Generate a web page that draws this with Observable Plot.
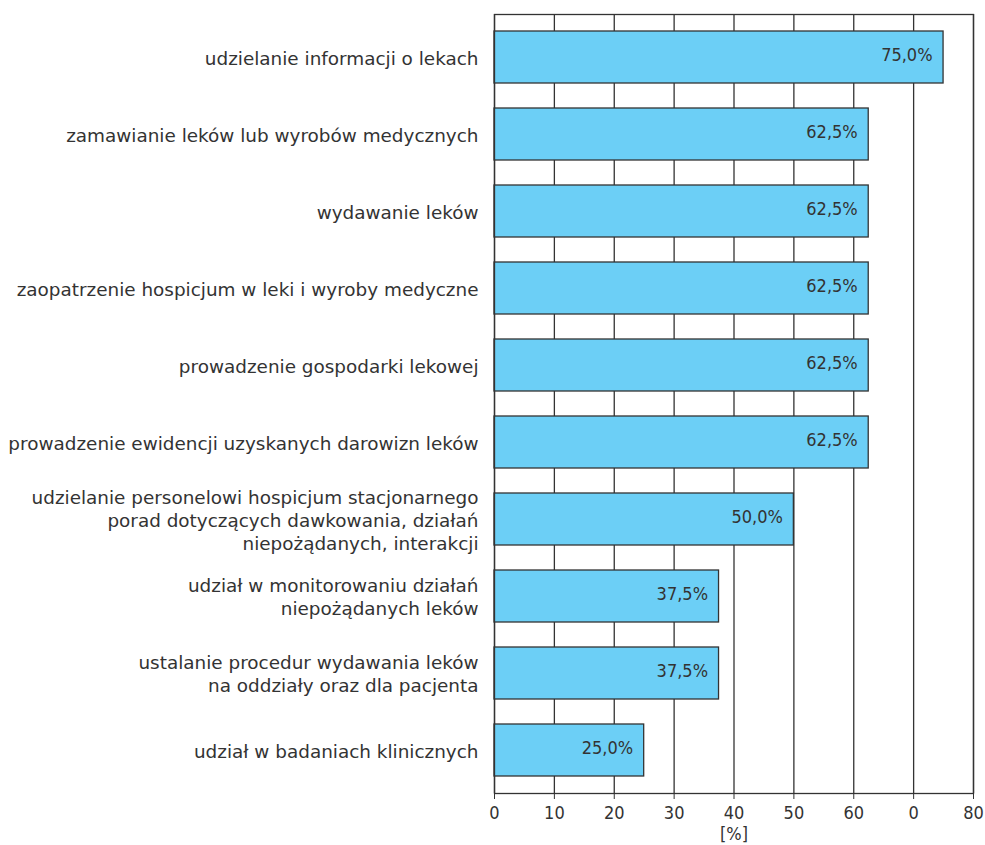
<!DOCTYPE html>
<html>
<head>
<meta charset="utf-8">
<script src="https://cdn.jsdelivr.net/npm/d3@7"></script>
<script src="https://cdn.jsdelivr.net/npm/@observablehq/plot@0.6"></script>
<style>
  html, body { margin: 0; padding: 0; background: #fff; }
  #chart svg { display: block; }
</style>
</head>
<body>
<div id="chart"></div>
<script>
const categories = [
  "udzielanie informacji o lekach",
  "zamawianie leków lub wyrobów medycznych",
  "wydawanie leków",
  "zaopatrzenie hospicjum w leki i wyroby medyczne",
  "prowadzenie gospodarki lekowej",
  "prowadzenie ewidencji uzyskanych darowizn leków",
  "udzielanie personelowi hospicjum stacjonarnego\nporad dotyczących dawkowania, działań\nniepożądanych, interakcji",
  "udział w monitorowaniu działań\nniepożądanych leków",
  "ustalanie procedur wydawania leków\nna oddziały oraz dla pacjenta",
  "udział w badaniach klinicznych"
];
const values = [75.0, 62.5, 62.5, 62.5, 62.5, 62.5, 50.0, 37.5, 37.5, 25.0];
const xTicks = [0, 10, 20, 30, 40, 50, 60, 70, 80];
const xTickLabels = ["0", "10", "20", "30", "40", "50", "60", "0", "80"];

const data = categories.map((c, i) => ({category: c, value: values[i]}));
const fmt = v => v.toFixed(1).replace(".", ",") + "%";

const ink = "#333";
const font = "DejaVu Sans, sans-serif";
const condensed = "DejaVu Sans Condensed, DejaVu Sans, sans-serif";

// ticks at band boundaries on the left axis
function bandBoundaryTicks(index, scales, values, dims) {
  const g = d3.create("svg:g").attr("stroke", ink).attr("stroke-width", 1.3);
  const top = dims.marginTop, bottom = dims.height - dims.marginBottom;
  const n = categories.length;
  const step = (bottom - top) / n;
  const x0 = scales.x(0);
  for (let i = 0; i <= n; i++) {
    const yy = top + i * step;
    g.append("line").attr("x1", x0 - 7).attr("x2", x0).attr("y1", yy).attr("y2", yy);
  }
  return g.node();
}

const chart = Plot.plot({
  width: 985,
  height: 845,
  marginLeft: 494,
  marginRight: 12,
  marginTop: 14,
  marginBottom: 52,
  style: {fontFamily: font, color: ink, background: "#fff"},
  x: {domain: [0, 80], ticks: xTicks},
  y: {domain: categories, paddingInner: 0.32, paddingOuter: 0.16},
  marks: [
    Plot.ruleX(xTicks, {x: d => d, stroke: ink, strokeWidth: 1.3}),
    Plot.barX(data, {x: "value", y: "category", fill: "#6ccff6", stroke: ink, strokeWidth: 1.3}),
    Plot.text(data, {x: "value", y: "category", text: d => fmt(d.value), textAnchor: "end", dx: -11, dy: -2, fontSize: 18, fontFamily: condensed, fill: ink}),
    Plot.frame({stroke: ink, strokeWidth: 1.3}),
    Plot.axisY({tickSize: 0, tickPadding: 16, fontSize: 18.4, lineHeight: 1.25, dy: 0, label: null, fill: ink}),
    Plot.axisX({ticks: xTicks, tickFormat: (d) => xTickLabels[xTicks.indexOf(d)], tickSize: 6, tickPadding: 7, fontSize: 18, fontFamily: condensed, fill: ink, stroke: ink,
      label: "[%]", labelAnchor: "center", labelArrow: "none", labelOffset: 46}),
    Plot.ruleY([0], {render: bandBoundaryTicks})
  ]
});
document.getElementById("chart").appendChild(chart);
</script>
</body>
</html>
